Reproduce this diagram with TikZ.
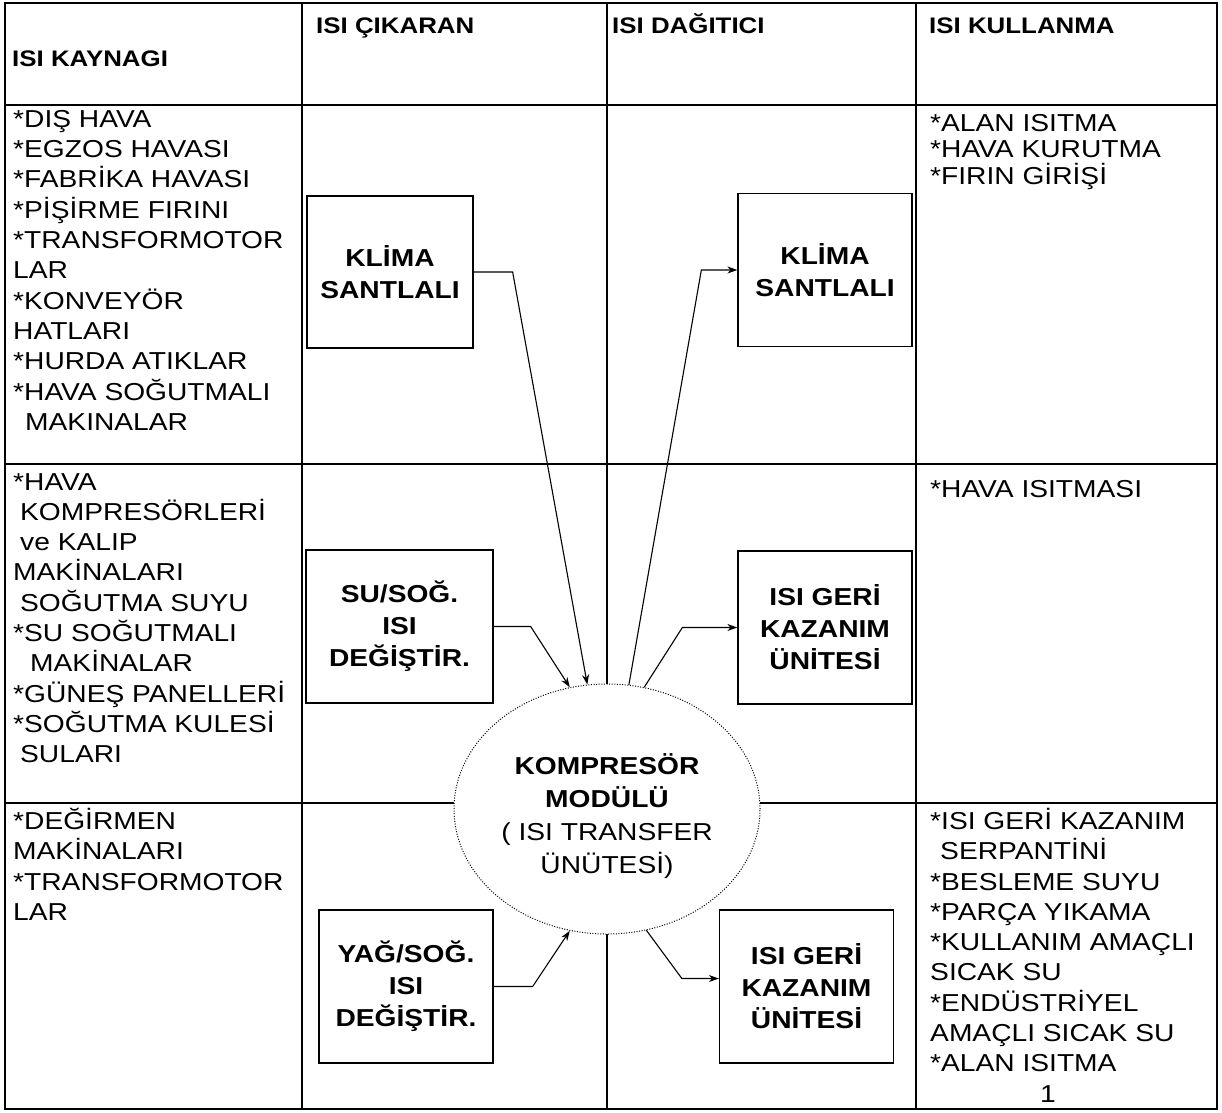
\documentclass[tikz,border=0pt]{standalone}
\usepackage{fontspec}
\setmainfont{Liberation Sans}[FakeStretch=1.15]
\usetikzlibrary{shapes.geometric,arrows.meta}
\newcommand{\girinti}[1]{\hspace*{#1}}

\begin{document}
\begin{tikzpicture}[x=1pt, y=-1pt,
  every node/.style={inner sep=0pt},
  kutu/.style={draw, line width=1.3pt, minimum width=174pt, minimum height=153pt,
    align=center, font=\fontsize{24.5}{32}\selectfont\bfseries},
  liste/.style={anchor=north west, align=left, font=\fontsize{24.5}{30.3}\selectfont},
  baslik/.style={anchor=north west, font=\fontsize{22.5}{30}\selectfont\bfseries},
  ok/.style={line width=1.1pt, -{Stealth[length=10pt, width=7pt]}}
]
\tikzset{
  cizgi/.style={line width=1.4pt},
  modul/.style={ellipse, draw, line width=1pt, dash pattern=on 1pt off 1.6pt, fill=white,
    minimum width=306pt, minimum height=250pt, align=center,
    font=\fontsize{24.5}{33}\selectfont}
}
\useasboundingbox (0,0) rectangle (1222,1112);

% tablo
\draw[cizgi] (5,3) rectangle (1217,1109);
\foreach \x in {302,607,916} \draw[cizgi] (\x,3) -- (\x,1109);
\foreach \y in {105,464,803} \draw[cizgi] (5,\y) -- (1217,\y);

% basliklar
\node[baslik] (bkaynak) at (12,51) {ISI KAYNAGI};
\node[baslik] (bcikaran) at (316,18) {ISI ÇIKARAN};
\node[baslik] (bdagitici) at (612,13) {ISI DAĞITICI};
\node[baslik] (bkullanma) at (929,18) {ISI KULLANMA};

% isi kaynaklari
\node[liste] (kaynak1) at (13,110) {*DIŞ HAVA\\{}*EGZOS HAVASI\\{}*FABRİKA HAVASI\\{}*PİŞİRME FIRINI\\{}*TRANSFORMOTOR\\LAR\\{}*KONVEYÖR\\HATLARI\\{}*HURDA ATIKLAR\\{}*HAVA SOĞUTMALI\\\girinti{12pt}MAKINALAR};
\node[liste] (kaynak2) at (13,473) {*HAVA\\\girinti{7pt}KOMPRESÖRLERİ\\\girinti{7pt}ve KALIP\\MAKİNALARI\\\girinti{7pt}SOĞUTMA SUYU\\{}*SU SOĞUTMALI\\\girinti{17pt}MAKİNALAR\\{}*GÜNEŞ PANELLERİ\\{}*SOĞUTMA KULESİ\\\girinti{7pt}SULARI};
\node[liste] (kaynak3) at (13,808) {*DEĞİRMEN\\MAKİNALARI\\{}*TRANSFORMOTOR\\LAR};

% isi kullanma
\node[liste, font=\fontsize{24.5}{26.5}\selectfont] (kullanma1) at (930,114) {*ALAN ISITMA\\{}*HAVA KURUTMA\\{}*FIRIN GİRİŞİ};
\node[liste] (kullanma2) at (930,480) {*HAVA ISITMASI};
\node[liste] (kullanma3) at (930,808) {*ISI GERİ KAZANIM\\\girinti{10pt}SERPANTİNİ\\{}*BESLEME SUYU\\{}*PARÇA YIKAMA\\{}*KULLANIM AMAÇLI\\SICAK SU\\{}*ENDÜSTRİYEL\\AMAÇLI SICAK SU\\{}*ALAN ISITMA};
\node[font=\fontsize{24.5}{30}\selectfont] (sayfa) at (1048,1094) {1};

% kutular
\node[kutu, minimum width=166pt, minimum height=152pt] (klima1) at (390,272) {KLİMA\\SANTLALI};
\node[kutu] (klima2) at (825,270) {KLİMA\\SANTLALI};
\node[kutu, minimum width=187pt] (su) at (399.5,626.5) {SU/SOĞ.\\ISI\\DEĞİŞTİR.};
\node[kutu] (geri1) at (825,627.5) {ISI GERİ\\KAZANIM\\ÜNİTESİ};
\node[kutu] (yag) at (406,986.5) {YAĞ/SOĞ.\\ISI\\DEĞİŞTİR.};
\node[kutu] (geri2) at (806.5,986.5) {ISI GERİ\\KAZANIM\\ÜNİTESİ};

% kompresor modulu
\node[modul] (kmod) at (607,809) {\rule{0pt}{36pt}\textbf{KOMPRESÖR}\\\textbf{MODÜLÜ}\\( ISI TRANSFER\\ÜNÜTESİ)};

% oklar
\draw[ok] (klima1.east) -- ++(39,0) -- (kmod.99);
\draw[ok] (kmod.80) -- ([xshift=-36pt]klima2.west) -- (klima2.west);
\draw[ok] (su.east) -- ++(37,0) -- (kmod.107);
\draw[ok] (kmod.73) -- ([xshift=-55pt]geri1.west) -- (geri1.west);
\draw[ok] (yag.east) -- ++(39,0) -- (kmod.253);
\draw[ok] (kmod.288) -- ([xshift=-37pt, yshift=8pt]geri2.west) -- ([yshift=8pt]geri2.west);
\end{tikzpicture}
\end{document}
